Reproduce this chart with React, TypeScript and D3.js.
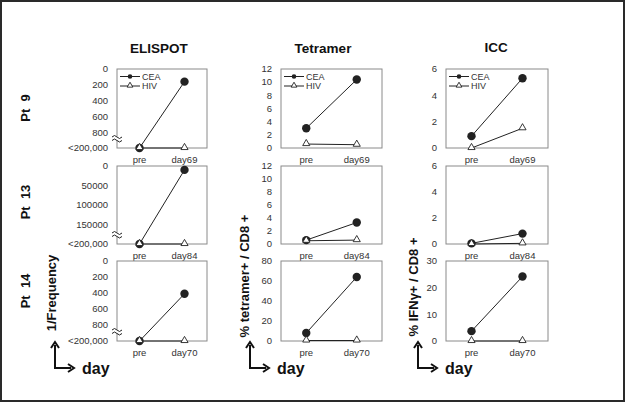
import React from "react";
import * as d3 from "d3";

// ---------- data ----------
const assays = ["ELISPOT", "Tetramer", "ICC"];
const patients = ["Pt  9", "Pt  13", "Pt  14"];
const days = [
  ["pre", "day69"],
  ["pre", "day84"],
  ["pre", "day70"],
];
const seriesNames = ["CEA", "HIV"];

// ELISPOT: 1/frequency (200000 = "<200,000", plotted at the axis bottom)
const elispotCEA = [
  [200000, 160],
  [200000, 10000],
  [200000, 410],
];
const elispotHIV = [
  [200000, 200000],
  [200000, 200000],
  [200000, 200000],
];
// Tetramer: % tetramer+ / CD8+
const tetramerCEA = [
  [3.0, 10.4],
  [0.6, 3.3],
  [8, 64],
];
const tetramerHIV = [
  [0.6, 0.5],
  [0.5, 0.6],
  [0.5, 0.5],
];
// ICC: % IFNγ+ / CD8+
const iccCEA = [
  [0.9, 5.3],
  [0.05, 0.8],
  [3.7, 24.2],
];
const iccHIV = [
  [0, 1.5],
  [0, 0.05],
  [0, 0],
];

const elispotDomains = [1000, 200000, 1000];
const elispotTicks = [
  [0, 200, 400, 600, 800],
  [0, 50000, 100000, 150000],
  [0, 200, 400, 600, 800],
];
const elispotBottomLabel = "<200,000";
const tetramerDomains = [12, 12, 80];
const tetramerTicks = [
  [0, 2, 4, 6, 8, 10, 12],
  [0, 2, 4, 6, 8, 10, 12],
  [0, 20, 40, 60, 80],
];
const iccDomains = [6, 6, 30];
const iccTicks = [
  [0, 2, 4, 6],
  [0, 2, 4, 6],
  [0, 10, 20, 30],
];
const axisLabels = ["1/Frequency", "% tetramer+ / CD8 +", "% IFNγ+ / CD8 +"];

// ---------- layout ----------
const W = 625;
const H = 402;
const colX = [
  [117, 207],
  [281, 382],
  [446, 548],
];
const rowY = [
  [69, 148],
  [166, 244],
  [261, 341],
];
const titlePos = [
  [159, 53],
  [323, 53],
  [496, 52],
];
const rowLabelPos = [
  [30, 108],
  [30, 202],
  [30, 291],
];
const axisLabelPos = [
  [56, 293],
  [249, 276],
  [418, 287],
];
const arrowX = [55, 250, 418];

const FONT = "'Liberation Sans', Arial, sans-serif";

function Break({ x, y }: { x: number; y: number }) {
  const wave = (dy: number) => `M${x - 5},${y + dy} q2.5,-3 5,0 t5,0`;
  return (
    <g>
      <rect x={x - 5} y={y - 2.5} width={10} height={4} fill="white" />
      <path d={wave(-2)} fill="none" stroke="#222" strokeWidth={1} />
      <path d={wave(1.5)} fill="none" stroke="#222" strokeWidth={1} />
    </g>
  );
}

function Panel({ col, row }: { col: number; row: number }) {
  const [x0, x1] = colX[col];
  const [y0, y1] = rowY[row];
  const cats = days[row];
  const x = d3.scalePoint<string>().domain(cats).range([x0, x1]).padding(0.5);
  let y: d3.ScaleLinear<number, number>;
  let ticks: number[];
  let cea: number[];
  let hiv: number[];
  if (col === 0) {
    y = d3.scaleLinear().domain([0, elispotDomains[row]]).range([y0, y1]).clamp(true);
    ticks = elispotTicks[row];
    cea = elispotCEA[row];
    hiv = elispotHIV[row];
  } else if (col === 1) {
    y = d3.scaleLinear().domain([0, tetramerDomains[row]]).range([y1, y0]);
    ticks = tetramerTicks[row];
    cea = tetramerCEA[row];
    hiv = tetramerHIV[row];
  } else {
    y = d3.scaleLinear().domain([0, iccDomains[row]]).range([y1, y0]);
    ticks = iccTicks[row];
    cea = iccCEA[row];
    hiv = iccHIV[row];
  }
  const line = d3
    .line<number>()
    .x((_, i) => x(cats[i]) as number)
    .y((d) => y(d));
  const tri = d3.symbol().type(d3.symbolTriangle).size(22)();
  const tickFmt = (v: number) => String(v);
  return (
    <g>
      <rect x={x0} y={y0} width={x1 - x0} height={y1 - y0} fill="white" stroke="#8a8a8a" strokeWidth={1} />
      {ticks.map((t) => (
        <text key={t} x={x0 - 9} y={y(t)} dy="0.35em" textAnchor="end" fontSize={9.5} fill="#333" fontFamily={FONT}>
          {tickFmt(t)}
        </text>
      ))}
      {col === 0 && (
        <text x={x0 - 9} y={y1} dy="0.35em" textAnchor="end" fontSize={9.5} fill="#333" fontFamily={FONT}>
          {elispotBottomLabel}
        </text>
      )}
      {col === 0 && <Break x={x0} y={y1 - 9} />}
      {cats.map((c) => (
        <text key={c} x={x(c)} y={y1 + 15} textAnchor="middle" fontSize={9.5} fill="#333" fontFamily={FONT}>
          {c}
        </text>
      ))}
      <path d={line(cea) || ""} fill="none" stroke="#222" strokeWidth={1} />
      <path d={line(hiv) || ""} fill="none" stroke="#222" strokeWidth={1} />
      {cea.map((v, i) => (
        <circle key={"c" + i} cx={x(cats[i])} cy={y(v)} r={4.2} fill="#222" />
      ))}
      {hiv.map((v, i) => (
        <path key={"h" + i} d={tri || ""} transform={`translate(${x(cats[i])},${y(v) - 0.5})`} fill="white" stroke="#222" strokeWidth={0.9} />
      ))}
      {row === 0 &&
        seriesNames.map((s, i) => {
          const ly = y0 + 7.5 + i * 9.5;
          const mx = x0 + 13;
          return (
            <g key={s}>
              <line x1={x0 + 3} x2={x0 + 23} y1={ly} y2={ly} stroke="#222" strokeWidth={1} />
              {i === 0 ? (
                <circle cx={mx} cy={ly} r={2.3} fill="#222" />
              ) : (
                <path d={d3.symbol().type(d3.symbolTriangle).size(14)() || ""} transform={`translate(${mx},${ly - 0.5})`} fill="white" stroke="#222" strokeWidth={0.9} />
              )}
              <text x={x0 + 25} y={ly} dy="0.35em" fontSize={9} fill="#333" fontFamily={FONT}>
                {s}
              </text>
            </g>
          );
        })}
    </g>
  );
}

function DayArrow({ x }: { x: number }) {
  const yTop = 342;
  const yc = 368;
  return (
    <g>
      <path d={`M${x},${yTop + 3} L${x},${yc} L${x + 16},${yc}`} fill="none" stroke="#111" strokeWidth={2} />
      <path d={`M${x - 4},${yTop + 6} L${x},${yTop} L${x + 4},${yTop + 6}`} fill="none" stroke="#111" strokeWidth={2} />
      <path d={`M${x + 13},${yc - 4} L${x + 19},${yc} L${x + 13},${yc + 4}`} fill="none" stroke="#111" strokeWidth={2} />
      <text x={x + 27} y={yc + 6} fontSize={16} fontWeight="bold" fill="#111" fontFamily={FONT}>
        day
      </text>
    </g>
  );
}

export default function App() {
  return (
    <div style={{ position: "fixed", left: 0, top: 0 }}>
      <svg width={W} height={H} style={{ display: "block" }}>
        <rect x={0} y={0} width={W} height={H} fill="white" />
        <rect x={1} y={1} width={W - 2} height={H - 2} fill="none" stroke="#2a2a2a" strokeWidth={2} />
        {assays.map((a, i) => (
          <text key={a} x={titlePos[i][0]} y={titlePos[i][1]} textAnchor="middle" fontSize={13.5} fontWeight="bold" fill="#111" fontFamily={FONT}>
            {a}
          </text>
        ))}
        {patients.map((p, i) => (
          <text
            key={p}
            transform={`translate(${rowLabelPos[i][0]},${rowLabelPos[i][1]}) rotate(-90)`}
            textAnchor="middle"
            fontSize={13}
            fontWeight="bold"
            fill="#111"
            fontFamily={FONT}
            style={{ whiteSpace: "pre" }}
          >
            {p}
          </text>
        ))}
        {axisLabels.map((l, i) => (
          <text
            key={l}
            transform={`translate(${axisLabelPos[i][0]},${axisLabelPos[i][1]}) rotate(-90)`}
            textAnchor="middle"
            fontSize={13}
            fontWeight="bold"
            fill="#111"
            fontFamily={FONT}
          >
            {l}
          </text>
        ))}
        {[0, 1, 2].map((r) => [0, 1, 2].map((c) => <Panel key={`${r}-${c}`} col={c} row={r} />))}
        {arrowX.map((x) => (
          <DayArrow key={x} x={x} />
        ))}
      </svg>
    </div>
  );
}
